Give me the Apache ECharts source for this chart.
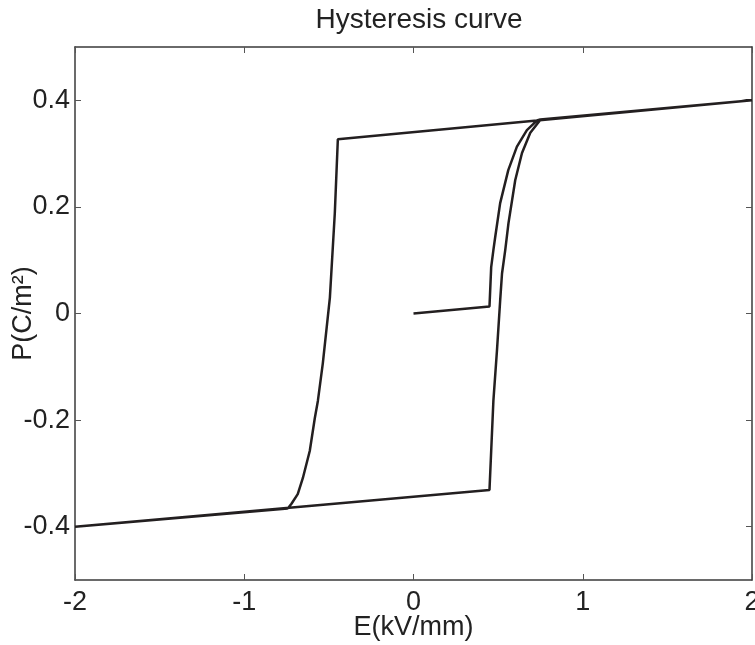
<!DOCTYPE html>
<html>
<head>
<meta charset="utf-8">
<script src="https://cdn.jsdelivr.net/npm/echarts@6/dist/echarts.min.js"></script>
<style>
  html, body { margin: 0; padding: 0; background: #fff; }
  #chart { width: 755px; height: 645px; }
</style>
</head>
<body>
<div id="chart"></div>
<script>
// 初始极化曲线 (从原点出发)
var initE = [0, 0.449, 0.459, 0.472, 0.483, 0.512, 0.560, 0.611, 0.670, 0.729, 0.749];
var initP = [0, 0.013, 0.087, 0.119, 0.144, 0.207, 0.269, 0.313, 0.344, 0.362, 0.364];

// 上支路: 到正饱和再返回到矫顽场
var upperE = [2, -0.447];
var upperP = [0.40, 0.327];

// 左侧下降支路
var descE = [-0.447, -0.465, -0.494, -0.536, -0.565, -0.583, -0.613, -0.654, -0.684, -0.721, -0.743];
var descP = [0.327, 0.188, 0.030, -0.094, -0.164, -0.196, -0.258, -0.309, -0.339, -0.357, -0.366];

// 下支路: 到负饱和再返回
var lowerE = [-2, 0.449];
var lowerP = [-0.40, -0.331];

// 右侧上升支路, 最后回到正饱和
var ascE = [0.449, 0.459, 0.472, 0.493, 0.512, 0.523, 0.542, 0.561, 0.601, 0.641, 0.690, 0.749, 2];
var ascP = [-0.331, -0.258, -0.164, -0.070, 0.024, 0.075, 0.119, 0.169, 0.250, 0.301, 0.339, 0.363, 0.40];

var xTicks = [-2, -1, 0, 1, 2];
var yTicks = [-0.4, -0.2, 0, 0.2, 0.4];

function pairs(es, ps) {
    var out = [];
    for (var i = 0; i < es.length; i++) out.push([es[i], ps[i]]);
    return out;
}

var loop = [].concat(
    pairs(initE, initP),
    pairs(upperE, upperP),
    pairs(descE, descP),
    pairs(lowerE, lowerP),
    pairs(ascE, ascP)
);

var fontFam = 'Liberation Sans, Arial, sans-serif';
var axisColor = '#3a3a3a';

function xAxisCfg(pos, showLabel) {
    return {
        type: 'value', position: pos, min: -2, max: 2, interval: 1,
        name: showLabel ? 'E(kV/mm)' : '', nameLocation: 'middle', nameGap: 34,
        nameMoveOverlap: false,
        nameTextStyle: { fontSize: 27, color: '#222', fontFamily: fontFam },
        axisLine: { show: true, onZero: false, lineStyle: { color: axisColor, width: 1.5 } },
        axisTick: { show: true, inside: true, length: 6, customValues: xTicks, lineStyle: { color: '#555', width: 1 } },
        axisLabel: { show: showLabel, margin: 9, fontSize: 27, color: '#222', fontFamily: fontFam, customValues: xTicks },
        splitLine: { show: false }
    };
}

function yAxisCfg(pos, showLabel) {
    return {
        type: 'value', position: pos, min: -0.5, max: 0.5,
        name: showLabel ? 'P(C/m²)' : '', nameLocation: 'middle', nameGap: 38,
        nameMoveOverlap: false,
        nameTextStyle: { fontSize: 27, color: '#222', fontFamily: fontFam },
        axisLine: { show: true, onZero: false, lineStyle: { color: axisColor, width: 1.5 } },
        axisTick: { show: true, inside: true, length: 6, customValues: yTicks, lineStyle: { color: '#555', width: 1 } },
        axisLabel: {
            show: showLabel, margin: 5, fontSize: 27, color: '#222', fontFamily: fontFam, customValues: yTicks,
            formatter: function (v) { return String(Math.round(v * 10) / 10); }
        },
        splitLine: { show: false }
    };
}

var myChart = echarts.init(document.getElementById('chart'));
var option = {
    backgroundColor: '#fff',
    animation: false,
    title: {
        text: 'Hysteresis curve',
        left: 414, top: 1, textAlign: 'center',
        textStyle: { fontSize: 28, fontWeight: 'normal', color: '#222', fontFamily: fontFam }
    },
    grid: { left: 75, right: 3, top: 47, bottom: 65, containLabel: false, outerBoundsMode: 'none' },
    xAxis: [xAxisCfg('bottom', true), xAxisCfg('top', false)],
    yAxis: [yAxisCfg('left', true), yAxisCfg('right', false)],
    series: [{
        type: 'line',
        data: loop,
        showSymbol: false,
        smooth: false,
        lineStyle: { color: '#231f20', width: 2.5 }
    }]
};
myChart.setOption(option);
</script>
</body>
</html>
